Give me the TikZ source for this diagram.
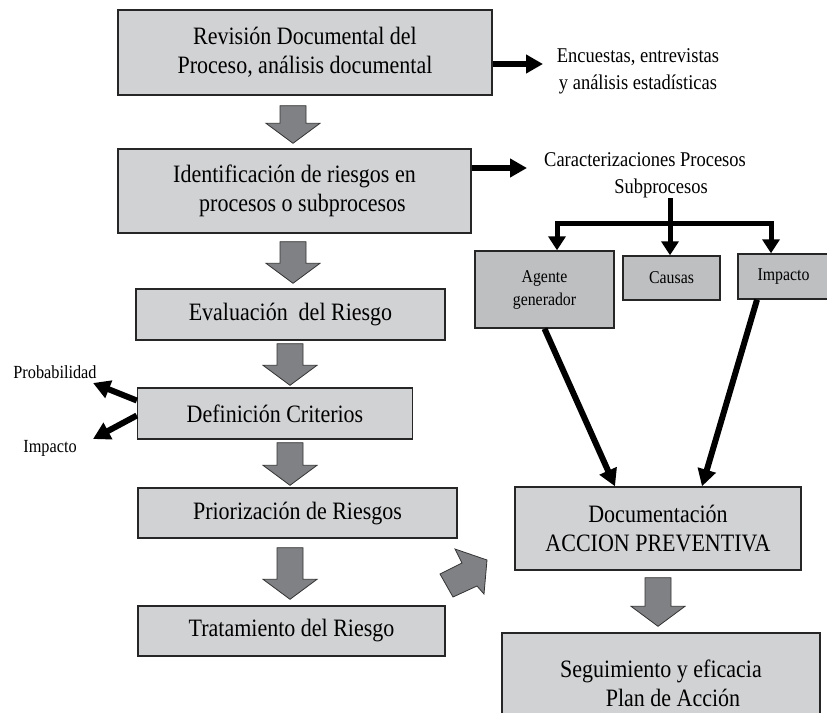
\documentclass[tikz,border=0pt]{standalone}
\usepackage{fontspec}
\setmainfont{Liberation Serif}[FakeStretch=0.88]
\usepackage{tikz}
\usetikzlibrary{arrows.meta,calc}

\definecolor{cajagris}{RGB}{209,210,212}
\definecolor{cajaoscura}{RGB}{190,191,193}
\definecolor{flechagris}{RGB}{128,129,132}

\begin{document}
\begin{tikzpicture}[x=1pt,y=-1pt]

    % --- DEFINE STYLES ---
    % Style for the main process boxes
    \tikzstyle{caja} = [rectangle, draw=black!85, line width=1.4pt, fill=cajagris, inner sep=0pt, align=center, font=\fontsize{25}{29}\selectfont]
    % Style for the small boxes under the branch
    \tikzstyle{caja_peq} = [caja, fill=cajaoscura, font=\fontsize{18}{23}\selectfont]
    % Style for the texts beside the boxes
    \tikzstyle{texto_lado} = [align=center, inner sep=0pt, font=\fontsize{21}{27}\selectfont]
    % Style for the thick black arrows
    \tikzstyle{flecha} = [line width=6pt, -{Triangle[length=17pt,width=18pt]}]
    % Style for the branch lines
    \tikzstyle{rama} = [line width=5pt]
    % Style for the gray block arrows
    \tikzstyle{bloque} = [fill=flechagris, draw=black!80, line width=0.8pt]

    \clip (0,0) rectangle (827,712);

    % --- MAIN COLUMN ---
    \node[caja, minimum width=374pt, minimum height=85pt] (r1) at (305,52.5) {Revisión Documental del\\Proceso, análisis documental};
    \node[caja, minimum width=353pt, minimum height=84pt] (r2) at (294.5,191) {Identificación de riesgos en\\\hspace*{16pt}procesos o subprocesos};
    \node[caja, minimum width=309pt, minimum height=51pt] (r3) at (290.5,314.5) {Evaluación\ \ del Riesgo};
    \node[caja, minimum width=275pt, minimum height=51pt] (r4) at (275,413.5) {Definición Criterios};
    \node[caja, minimum width=319pt, minimum height=50pt] (r5) at (297.5,513) {Priorización de Riesgos};
    \node[caja, minimum width=307pt, minimum height=50pt] (r6) at (291.5,631) {Tratamiento del Riesgo};

    % --- RIGHT SIDE ---
    \node[texto_lado] (enc) at (638,71) {Encuestas, entrevistas\\y análisis estadísticas};
    \node[texto_lado] (car) at (645,175) {Caracterizaciones Procesos\\\hspace*{32pt}Subprocesos};
    \node[caja_peq, minimum width=139pt, minimum height=77pt] (ag) at (544.5,289.5) {Agente\\generador};
    \node[caja_peq, minimum width=97pt, minimum height=44pt] (cau) at (671.5,278) {Causas};
    \node[caja_peq, minimum width=91pt, minimum height=45pt] (imp) at (783.5,276.5) {Impacto};
    \node[caja, minimum width=286pt, minimum height=83pt] (doc) at (658,528.5) {Documentación\\ACCION PREVENTIVA};
    \node[caja, minimum width=318pt, minimum height=100pt] (seg) at (661,683) {Seguimiento y eficacia\\\hspace*{24pt}Plan de Acción};

    % --- LEFT SIDE ---
    \node[texto_lado, font=\fontsize{18.5}{22}\selectfont] (prob) at (55,372) {Probabilidad};
    \node[texto_lado, font=\fontsize{18.5}{22}\selectfont] (impl) at (50,448) {Impacto};

    % --- BLACK ARROWS ---
    \coordinate (encA) at (543,64);
    \coordinate (carA) at (527,168);
    \coordinate (rama) at (670,223);
    \coordinate (probA) at (93,383);
    \coordinate (impA) at (93,439);
    \draw[flecha] (r1.east |- encA) -- (encA);
    \draw[flecha] (r2.east |- carA) -- (carA);
    \draw[rama] (rama |- car.south) -- (rama);
    \foreach \n/\cx in {ag/557, cau/670, imp/771}
        \draw[rama, -{Triangle[length=14pt,width=17pt]}] (rama) -| (\cx,0 |- \n.north);
    \draw[flecha] (ag.south) -- (615,0 |- doc.north);
    \draw[flecha] (757,0 |- imp.south) -- (702,0 |- doc.north);
    \draw[flecha] ([yshift=13pt]r4.west) -- (probA);
    \draw[flecha] ([yshift=-2pt]r4.west) -- (impA);

    % --- GRAY BLOCK ARROWS ---
    \foreach \de/\ha/\cx/\gapA/\gapB in {r1/r2/293/10pt/5pt, r2/r3/293/8pt/5pt, r3/r4/290/3pt/2pt, r4/r5/290/3pt/2pt, r5/r6/290/9pt/6pt, doc/seg/658/7pt/6pt} {
        \draw[bloque] let \p1 = (\cx,0 |- \de.south), \p2 = (\cx,0 |- \ha.north) in
            (\x1-13pt,\y1-\gapA) -- (\x1+13pt,\y1-\gapA) -- (\x1+13pt,\y2+\gapB+20pt) -- (\x1+27pt,\y2+\gapB+20pt)
            -- (\x1,\y2+\gapB) -- (\x1-27pt,\y2+\gapB+20pt) -- (\x1-13pt,\y2+\gapB+20pt) -- cycle;
    }
    % diagonal arrow towards the action box
    \draw[bloque] (440,574) -- (462,563) -- (455,549) -- (487,560) -- (484,594) -- (477,586) -- (453,597) -- cycle;

\end{tikzpicture}
\end{document}
